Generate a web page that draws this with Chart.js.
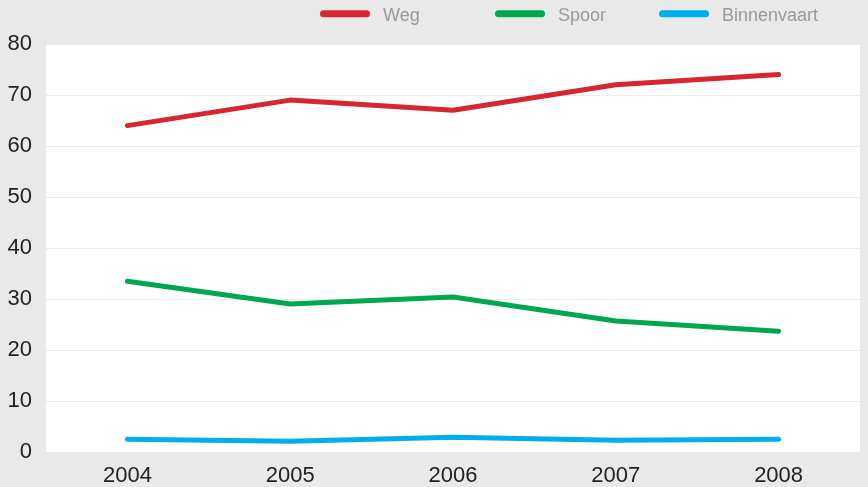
<!DOCTYPE html>
<html>
<head>
<meta charset="utf-8">
<script src="https://cdn.jsdelivr.net/npm/chart.js@4"></script>
<style>
  html, body { margin: 0; padding: 0; background: #e9e9e9; }
  #wrap { width: 868px; height: 487px; }
</style>
</head>
<body>
<div id="wrap"><canvas id="chart"></canvas></div>
<script>
const years = ['2004', '2005', '2006', '2007', '2008'];
const weg = [64, 69, 67, 72, 74];
const spoor = [33.5, 29, 30.4, 25.7, 23.7];
const binnenvaart = [2.5, 2.1, 2.9, 2.3, 2.5];
const yTicks = [0, 10, 20, 30, 40, 50, 60, 70, 80];

const colors = ['#d7262e', '#00a650', '#00aeef'];
const legendX = [320, 495, 659];

// grey page, white plot area
const background = {
    id: 'background',
    beforeDraw(chart) {
        const ctx = chart.ctx;
        const a = chart.chartArea;
        ctx.save();
        ctx.fillStyle = '#e9e9e9';
        ctx.fillRect(0, 0, chart.width, chart.height);
        ctx.fillStyle = '#ffffff';
        ctx.fillRect(a.left, a.top, a.right - a.left, a.bottom - a.top);
        ctx.restore();
    }
};

// legend strip along the top: short rounded line + grey label
const topLegend = {
    id: 'topLegend',
    afterDraw(chart) {
        const ctx = chart.ctx;
        ctx.save();
        ctx.font = '18px "Liberation Sans", Arial';
        ctx.textBaseline = 'alphabetic';
        chart.data.datasets.forEach((ds, i) => {
            const x = legendX[i];
            ctx.strokeStyle = ds.borderColor;
            ctx.lineWidth = 7;
            ctx.lineCap = 'round';
            ctx.beginPath();
            ctx.moveTo(x + 3.5, 13.7);
            ctx.lineTo(x + 46.5, 13.7);
            ctx.stroke();
            ctx.fillStyle = '#999';
            ctx.fillText(ds.label, x + 63, 21);
        });
        ctx.restore();
    }
};

function series(label, data, color) {
    return {
        label: label,
        data: data,
        borderColor: color,
        backgroundColor: color,
        borderWidth: 5,
        borderCapStyle: 'round',
        borderJoinStyle: 'round',
        pointRadius: 0,
        tension: 0
    };
}

new Chart(document.getElementById('chart'), {
    type: 'line',
    data: {
        labels: years,
        datasets: [
            series('Weg', weg, colors[0]),
            series('Spoor', spoor, colors[1]),
            series('Binnenvaart', binnenvaart, colors[2])
        ]
    },
    options: {
        responsive: true,
        maintainAspectRatio: false,
        animation: false,
        layout: { padding: { left: 0, right: 8, top: 44, bottom: 0 } },
        scales: {
            x: {
                offset: true,
                grid: { display: false },
                border: { display: false },
                afterFit(axis) { axis.height = 35; },
                ticks: {
                    color: '#222',
                    padding: 3,
                    maxRotation: 0,
                    font: { family: 'Liberation Sans, Arial', size: 22 }
                }
            },
            y: {
                min: 0,
                max: 80,
                afterBuildTicks(axis) { axis.ticks = yTicks.map(v => ({ value: v })); },
                afterFit(axis) { axis.width = 46; },
                grid: { color: '#ececec', lineWidth: 1, drawTicks: false },
                border: { display: false },
                ticks: {
                    color: '#222',
                    padding: 14,
                    font: { family: 'Liberation Sans, Arial', size: 22 }
                }
            }
        },
        plugins: {
            legend: { display: false },
            tooltip: { enabled: false }
        }
    },
    plugins: [background, topLegend]
});
</script>
</body>
</html>
